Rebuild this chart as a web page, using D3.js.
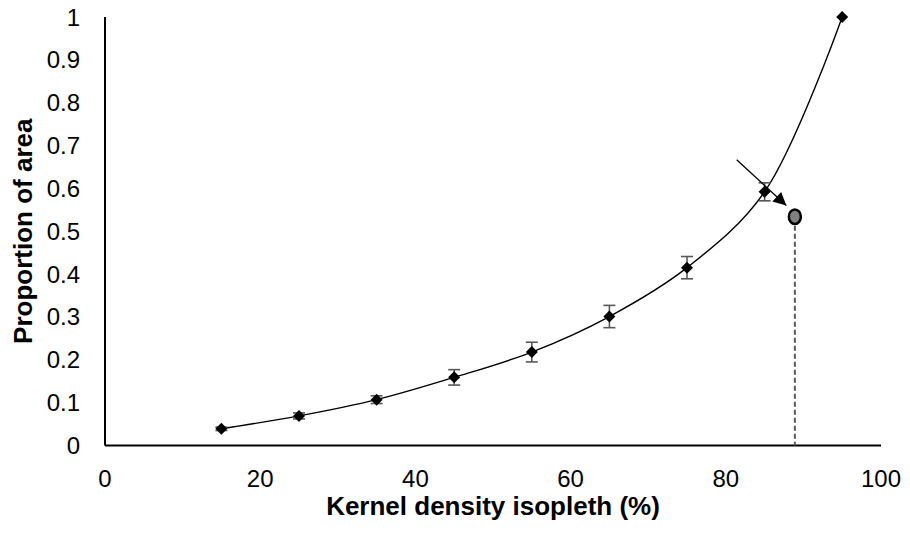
<!DOCTYPE html>
<html>
<head>
<meta charset="utf-8">
<script src="https://cdn.jsdelivr.net/npm/d3@7"></script>
<style>
  body { margin: 0; background: #fff; }
  text { font-family: "Liberation Sans", Arial, sans-serif; }
</style>
</head>
<body>
<div id="chart"></div>
<script>
// data
var isopleth = [15, 25, 35, 45, 55, 65, 75, 85, 95];
var proportion = [0.039, 0.069, 0.107, 0.159, 0.218, 0.301, 0.415, 0.592, 1.0];
var errorBar = [0.004, 0.007, 0.009, 0.018, 0.023, 0.026, 0.026, 0.021, 0];
var highlight = [88.9, 0.534];
var arrowFrom = [81.4, 0.667];
var arrowTo = [87.8, 0.56];
var xTicks = [0, 20, 40, 60, 80, 100];
var yTicks = [0, 0.1, 0.2, 0.3, 0.4, 0.5, 0.6, 0.7, 0.8, 0.9, 1];

var width = 910, height = 536;

var svg = d3.select('#chart')
    .append('svg')
    .attr('width', width)
    .attr('height', height);

var x = d3.scaleLinear().domain([0, 100]).range([105, 881]);
var y = d3.scaleLinear().domain([0, 1]).range([445.5, 17]);

var defs = svg.append('defs');
defs.append('marker')
    .attr('id', 'head')
    .attr('viewBox', '0 0 10 10')
    .attr('refX', 10)
    .attr('refY', 5)
    .attr('markerWidth', 16)
    .attr('markerHeight', 13)
    .attr('markerUnits', 'userSpaceOnUse')
    .attr('orient', 'auto')
    .append('path')
    .attr('d', 'M0,0L10,5L0,10Z')
    .attr('fill', '#000');

// axis lines
svg.append('line')
    .attr('x1', x(0)).attr('x2', x(0))
    .attr('y1', y(1)).attr('y2', y(0))
    .attr('stroke', '#000').attr('stroke-width', 2);
svg.append('line')
    .attr('x1', x(0)).attr('x2', x(100))
    .attr('y1', y(0)).attr('y2', y(0))
    .attr('stroke', '#000').attr('stroke-width', 2);

// tick labels
svg.selectAll('.xt')
    .data(xTicks)
    .enter()
    .append('text')
    .attr('class', 'xt')
    .attr('x', d => x(d))
    .attr('y', 487)
    .attr('text-anchor', 'middle')
    .attr('font-size', 24)
    .text(d => d);

svg.selectAll('.yt')
    .data(yTicks)
    .enter()
    .append('text')
    .attr('class', 'yt')
    .attr('x', 80)
    .attr('y', d => y(d) + 8.5)
    .attr('text-anchor', 'end')
    .attr('font-size', 24)
    .text(d => d);

// axis titles
svg.append('text')
    .attr('x', (x(0) + x(100)) / 2)
    .attr('y', 515)
    .attr('text-anchor', 'middle')
    .attr('font-size', 26)
    .attr('font-weight', 'bold')
    .text('Kernel density isopleth (%)');

svg.append('text')
    .attr('transform', `translate(32, ${(y(0) + y(1)) / 2})rotate(-90)`)
    .attr('text-anchor', 'middle')
    .attr('font-size', 26)
    .attr('font-weight', 'bold')
    .text('Proportion of area');

// dashed drop line and highlighted point
svg.append('line')
    .attr('x1', x(highlight[0])).attr('x2', x(highlight[0]))
    .attr('y1', y(highlight[1]) + 9).attr('y2', y(0))
    .attr('stroke', '#595959')
    .attr('stroke-width', 2)
    .attr('stroke-dasharray', '5,3');

// smoothed line
var pts = isopleth.map((d, i) => [d, proportion[i]]);
svg.append('path')
    .datum(pts)
    .attr('fill', 'none')
    .attr('stroke', '#000')
    .attr('stroke-width', 1.4)
    .attr('d', d3.line().x(d => x(d[0])).y(d => y(d[1])).curve(d3.curveCatmullRom.alpha(0.5)));

// error bars
var eb = svg.append('g').attr('stroke', '#595959').attr('stroke-width', 1.6);
isopleth.forEach(function (d, i) {
    if (!errorBar[i]) return;
    var top = y(proportion[i] + errorBar[i]), bot = y(proportion[i] - errorBar[i]);
    eb.append('line').attr('x1', x(d)).attr('x2', x(d)).attr('y1', top).attr('y2', bot);
    eb.append('line').attr('x1', x(d) - 6).attr('x2', x(d) + 6).attr('y1', top).attr('y2', top);
    eb.append('line').attr('x1', x(d) - 6).attr('x2', x(d) + 6).attr('y1', bot).attr('y2', bot);
});

// diamonds
svg.selectAll('.pt')
    .data(pts)
    .enter()
    .append('path')
    .attr('class', 'pt')
    .attr('transform', d => `translate(${x(d[0])},${y(d[1])})`)
    .attr('d', 'M0,-6L6,0L0,6L-6,0Z')
    .attr('fill', '#000');

svg.append('ellipse')
    .attr('cx', x(highlight[0]))
    .attr('cy', y(highlight[1]))
    .attr('rx', 6)
    .attr('ry', 7.3)
    .attr('fill', '#808080')
    .attr('stroke', '#000')
    .attr('stroke-width', 2.5);

// arrow
svg.append('line')
    .attr('x1', x(arrowFrom[0])).attr('y1', y(arrowFrom[1]))
    .attr('x2', x(arrowTo[0])).attr('y2', y(arrowTo[1]))
    .attr('stroke', '#000')
    .attr('stroke-width', 1.3)
    .attr('marker-end', 'url(#head)');
</script>
</body>
</html>
